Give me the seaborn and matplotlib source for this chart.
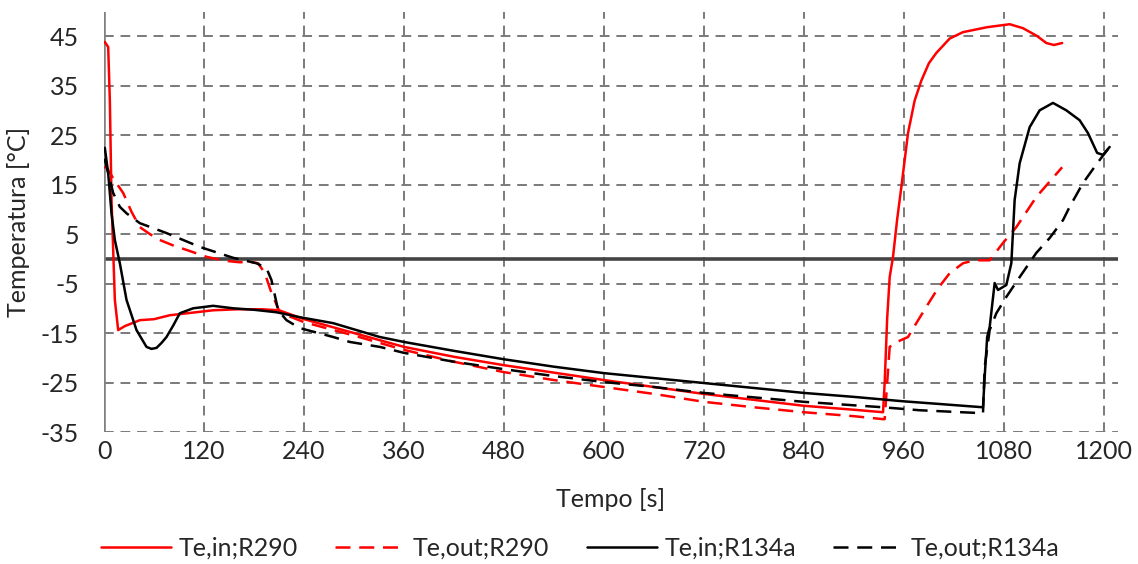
import numpy as np
import pandas as pd
import matplotlib
matplotlib.use('Agg')
import matplotlib.pyplot as plt
import seaborn as sns

# Te,in;R290
t_in_r290 = [0, 1, 5, 7, 9, 13, 17, 25, 43, 60, 79, 100, 131, 160, 190, 210, 240, 300, 360,
             420, 480, 540, 600, 660, 720, 780, 840, 900, 935, 937, 940, 943, 947, 952, 957,
             965, 973, 981, 990, 999, 1015, 1031, 1060, 1087, 1103, 1120, 1131, 1140, 1150]
y_in_r290 = [43.8, 43.8, 42.8, 32.0, 11.9, -8.3, -14.4, -13.6, -12.4, -12.2, -11.4, -11.0, -10.4,
             -10.2, -10.2, -10.4, -12.2, -15.0, -17.8, -19.8, -21.5, -23.0, -24.5, -25.9, -27.3,
             -28.5, -29.7, -30.5, -31.0, -25.0, -12.0, -3.7, 0.4, 8.0, 14.5, 25.4, 32.0, 36.0,
             39.5, 41.6, 44.5, 45.8, 46.8, 47.4, 46.6, 45.0, 43.6, 43.2, 43.6]

# Te,out;R290
t_out_r290 = [0, 3, 12, 23, 33, 43, 55, 67, 83, 99, 123, 145, 163, 175, 185, 193, 201, 211, 225,
              240, 300, 360, 420, 480, 540, 600, 660, 720, 780, 840, 900, 935, 937, 940, 943,
              949, 965, 975, 987, 1000, 1015, 1031, 1045, 1063, 1079, 1095, 1119, 1150]
y_out_r290 = [18.5, 18.5, 16.0, 13.3, 9.5, 6.4, 5.0, 3.8, 2.7, 1.8, 0.4, -0.4, -0.7, -0.6, -0.9,
              -2.9, -6.9, -10.8, -11.8, -12.8, -15.5, -18.4, -20.8, -22.9, -24.5, -25.9, -27.3,
              -28.9, -30.0, -31.0, -31.8, -32.4, -32.4, -25.0, -17.8, -17.0, -15.8, -13.0, -9.7,
              -6.2, -2.9, -0.9, -0.3, -0.3, 3.2, 6.4, 12.5, 18.5]

# Te,in;R134a
t_in_r134a = [0, 1, 5, 9, 13, 19, 27, 39, 51, 57, 63, 69, 75, 83, 91, 107, 131, 155, 180, 207,
              235, 275, 299, 331, 360, 420, 480, 540, 600, 660, 720, 780, 840, 900, 960, 1000,
              1055, 1057, 1060, 1063, 1069, 1073, 1083, 1089, 1093, 1099, 1111, 1123, 1139,
              1155, 1171, 1181, 1192, 1199, 1207]
y_in_r134a = [22.4, 22.4, 17.3, 9.2, 3.8, -0.9, -8.3, -14.4, -17.8, -18.2, -18.0, -17.0, -15.8,
              -13.5, -11.0, -10.0, -9.5, -10.0, -10.3, -10.8, -11.8, -13.0, -14.2, -15.8, -16.8,
              -18.6, -20.3, -21.8, -23.1, -24.1, -25.1, -26.1, -27.1, -27.9, -28.8, -29.3, -30.0,
              -23.9, -15.8, -13.8, -4.9, -6.3, -5.3, -0.9, 11.9, 19.3, 26.6, 30.0, 31.5, 30.0,
              28.0, 25.4, 21.4, 21.0, 22.6]

# Te,out;R134a
t_out_r134a = [0, 1, 11, 19, 27, 43, 75, 115, 155, 183, 195, 201, 209, 219, 235, 275, 295, 331,
               360, 420, 480, 540, 600, 660, 720, 780, 840, 900, 935, 979, 1055, 1057, 1063,
               1071, 1083, 1099, 1119, 1135, 1151, 1159, 1175, 1192, 1207]
y_out_r134a = [20.0, 20.0, 13.3, 10.5, 9.2, 7.2, 5.2, 2.4, 0.2, -0.9, -1.9, -4.3, -10.4, -12.4,
               -14.0, -15.8, -16.8, -17.8, -19.0, -20.8, -22.3, -23.7, -24.9, -25.9, -27.1, -28.0,
               -28.9, -29.6, -30.0, -30.6, -31.2, -21.9, -14.4, -11.0, -7.7, -3.7, 1.2, 4.2, 7.8,
               10.5, 15.3, 19.3, 22.6]

series_names = ['Te,in;R290', 'Te,out;R290', 'Te,in;R134a', 'Te,out;R134a']
series_t = [t_in_r290, t_out_r290, t_in_r134a, t_out_r134a]
series_y = [y_in_r290, y_out_r290, y_in_r134a, y_out_r134a]
x_ticks = list(range(0, 1201, 120))
y_ticks = list(range(-35, 46, 10))

colors = ['#ff0000', '#ff0000', '#000000', '#000000']
line_styles = ['-', (0, (6, 3.5)), '-', (0, (6, 3.5))]

sns.set_style("white")
plt.rcParams['font.family'] = ['Lato', 'DejaVu Sans']
plt.rcParams['axes.unicode_minus'] = False

fig = plt.figure(figsize=(11.38, 5.64), dpi=100)
ax = fig.add_axes([0.0914, 0.234, 0.891, 0.745])

# grid like the original spreadsheet chart
for xv in x_ticks[1:]:
    ax.axvline(xv, color='#7a7a7a', lw=1.4, ls=(0, (5, 3.5)), zorder=0)
for yv in y_ticks:
    ax.axhline(yv, color='#7a7a7a', lw=1.4, ls=(0, (5, 3.5)), zorder=0)
ax.axhline(0, color='#444444', lw=2.6, zorder=1)
ax.axvline(0, color='#808080', lw=2.6, zorder=1)

for name, t, y, c, ls in zip(series_names, series_t, series_y, colors, line_styles):
    df = pd.DataFrame({'Tempo': t, 'Temp': y})
    sns.lineplot(data=df, x='Tempo', y='Temp', ax=ax, color=c, lw=1.8,
                 estimator=None, sort=False, label=name, zorder=3)
    ax.lines[-1].set_linestyle(ls)

ax.set_xlim(0, 1217)
ax.set_ylim(-35, 49.9)
ax.set_xticks(x_ticks)
ax.set_yticks(y_ticks)
for s in ax.spines.values():
    s.set_visible(False)
ax.tick_params(axis='both', length=0, labelsize=18)
ax.tick_params(axis='y', pad=18)
ax.tick_params(axis='x', pad=6)
ax.set_xlabel('Tempo [s]', fontsize=18, labelpad=18)
ax.set_ylabel('Temperatura [°C]', fontsize=18, labelpad=8)

handles, labels = ax.get_legend_handles_labels()
ax.get_legend().remove()
fig.legend(handles, labels, loc='center', bbox_to_anchor=(0.51, 0.028), ncol=4, frameon=False,
           fontsize=18, handlelength=2.8, columnspacing=1.5, handletextpad=0.3)

fig.savefig('out.png', dpi=100)
